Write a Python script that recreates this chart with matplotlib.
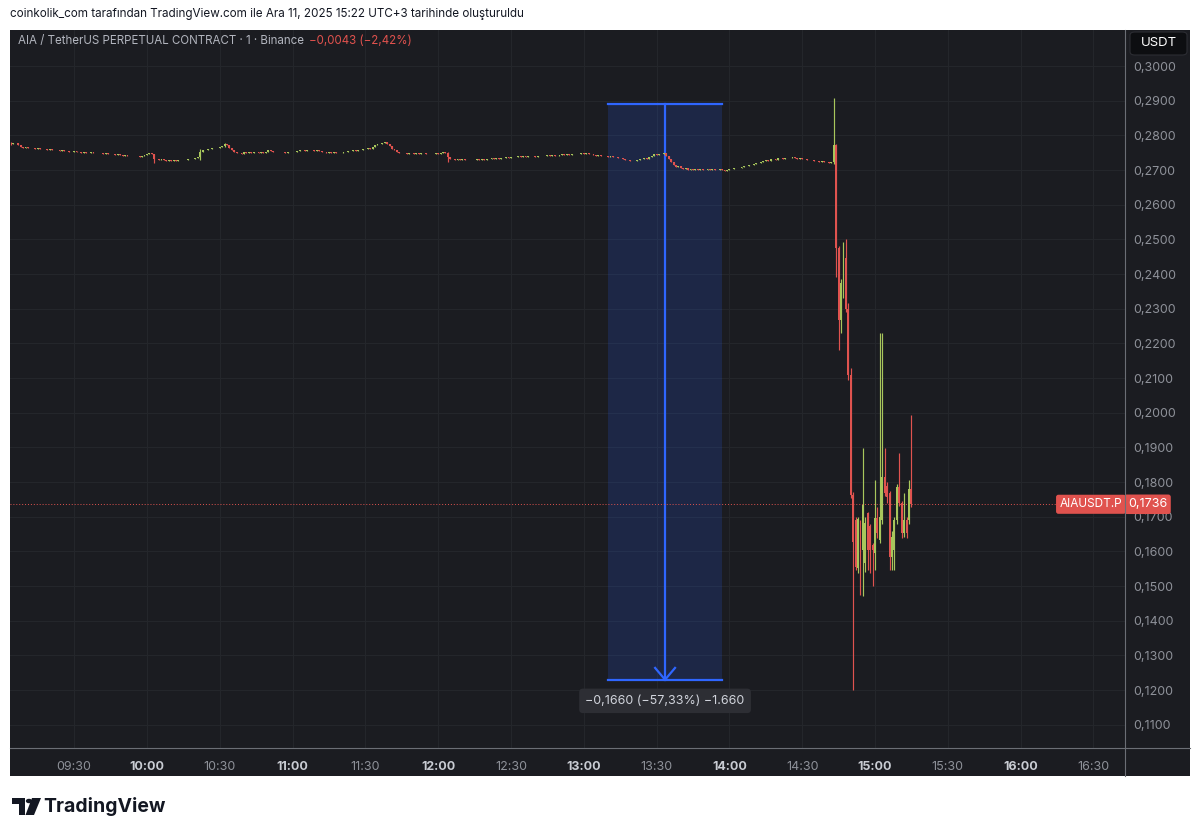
import numpy as np
import matplotlib
matplotlib.use("Agg")
import matplotlib.pyplot as plt
from matplotlib.patches import Rectangle, FancyBboxPatch, Circle, Polygon
from matplotlib.lines import Line2D
from matplotlib.transforms import blended_transform_factory

plt.rcParams['font.family'] = ['Inter', 'DejaVu Sans']

# 1-minute candles, prices in units of 0.0001 USDT
# quiet part 09:04 .. 14:42 (close only, open = previous close)
flat_start = 9 * 60 + 4
flat_first_open = 2776
flat_close = [
    2774, 2779, 2778, 2771, 2767, 2765, 2766, 2764, 2765, 2763,
    2762, 2763, 2761, 2760, 2761, 2759, 2760, 2758, 2759, 2757,
    2756, 2757, 2754, 2755, 2753, 2752, 2754, 2751, 2752, 2750,
    2751, 2749, 2750, 2752, 2749, 2748, 2750, 2748, 2747, 2748,
    2746, 2747, 2745, 2744, 2745, 2743, 2742, 2744, 2742, 2741,
    2742, 2740, 2741, 2739, 2741, 2743, 2746, 2748, 2745, 2733,
    2731, 2729, 2731, 2728, 2727, 2729, 2726, 2728, 2727, 2729,
    2728, 2730, 2729, 2731, 2733, 2732, 2735, 2737, 2752, 2757,
    2759, 2761, 2760, 2763, 2765, 2764, 2767, 2770, 2774, 2771,
    2765, 2758, 2752, 2748, 2750, 2747, 2751, 2749, 2752, 2750,
    2751, 2753, 2750, 2752, 2749, 2753, 2757, 2754, 2752, 2753,
    2751, 2753, 2752, 2750, 2752, 2751, 2753, 2752, 2755, 2757,
    2758, 2756, 2757, 2759, 2757, 2756, 2758, 2755, 2753, 2752,
    2750, 2751, 2749, 2751, 2748, 2750, 2749, 2751, 2753, 2755,
    2754, 2757, 2756, 2759, 2758, 2761, 2760, 2763, 2762, 2766,
    2772, 2775, 2774, 2777, 2780, 2776, 2768, 2762, 2757, 2753,
    2750, 2748, 2749, 2747, 2749, 2748, 2746, 2748, 2747, 2749,
    2748, 2746, 2747, 2745, 2747, 2748, 2746, 2749, 2751, 2750,
    2737, 2731, 2733, 2730, 2732, 2729, 2731, 2728, 2730, 2729,
    2730, 2728, 2731, 2729, 2732, 2730, 2733, 2731, 2734, 2733,
    2735, 2733, 2736, 2735, 2737, 2736, 2739, 2737, 2738, 2740,
    2738, 2741, 2739, 2740, 2742, 2740, 2739, 2741, 2740, 2742,
    2741, 2743, 2742, 2744, 2742, 2741, 2743, 2745, 2744, 2746,
    2744, 2745, 2747, 2745, 2746, 2748, 2747, 2749, 2747, 2745,
    2744, 2742, 2743, 2741, 2742, 2740, 2739, 2741, 2738, 2739,
    2736, 2734, 2731, 2728, 2729, 2725, 2727, 2726, 2729, 2733,
    2731, 2735, 2733, 2738, 2742, 2745, 2744, 2747, 2746, 2748,
    2742, 2733, 2724, 2716, 2710, 2712, 2706, 2703, 2705, 2701,
    2703, 2701, 2702, 2700, 2702, 2699, 2701, 2703, 2700, 2702,
    2701, 2699, 2702, 2700, 2698, 2701, 2703, 2702, 2705, 2707,
    2706, 2709, 2712, 2711, 2715, 2714, 2718, 2721, 2719, 2723,
    2725, 2728, 2727, 2731, 2733, 2730, 2734, 2736, 2733, 2735,
    2736, 2734, 2737, 2735, 2733, 2734, 2731, 2732, 2729, 2730,
    2728, 2726, 2727, 2723, 2725, 2722, 2724, 2721, 2723,
]
# a few visible wicks in the quiet part: candle index -> (high, low)
flat_wicks = {0: (2781, 2772), 59: (2746, 2720), 78: (2760, 2730), 180: (2751, 2722), 88: (2777, 2766)}

# crash 14:43 .. 15:15
crash_open = [2723, 2772, 2475, 2268, 2374, 2446, 2300, 2110, 1763, 1691, 1552, 1681, 1604, 1566, 1710, 1672, 1619,
              1595, 1696, 1633, 1691, 1816, 1790, 1768, 1585, 1604, 1691, 1787, 1739, 1653, 1691, 1691, 1779]
crash_high = [2908, 2775, 2480, 2385, 2493, 2500, 2317, 2128, 1770, 1700, 1700, 1690, 1898, 1700, 1715, 1680, 1625,
              1806, 1729, 2230, 2230, 1898, 1800, 1775, 1660, 1700, 1795, 1883, 1745, 1768, 1700, 1806, 1994]
crash_low = [2718, 2392, 2181, 2230, 2330, 2290, 2095, 1755, 1201, 1545, 1537, 1475, 1470, 1540, 1547, 1537, 1499,
             1547, 1640, 1624, 1680, 1760, 1740, 1547, 1547, 1547, 1680, 1730, 1640, 1643, 1640, 1680, 1729]
crash_close = [2772, 2475, 2268, 2374, 2446, 2300, 2110, 1763, 1628, 1556, 1694, 1576, 1733, 1681, 1604, 1604, 1604,
               1696, 1653, 1700, 1816, 1768, 1758, 1585, 1643, 1691, 1787, 1739, 1653, 1691, 1653, 1779, 1736]

last_price = 0.1736
measure_t0, measure_t1, measure_mid = 13 * 60 + 10, 13 * 60 + 57, 13 * 60 + 33.5
measure_top, measure_bottom = 0.2890, 0.1230
measure_text = "\u22120,1660 (\u221257,33%) \u22121.660"

xtick_min = [570 + 30 * k for k in range(15)]
xtick_lab = ["09:30", "10:00", "10:30", "11:00", "11:30", "12:00", "12:30", "13:00",
             "13:30", "14:00", "14:30", "15:00", "15:30", "16:00", "16:30"]
yticks = [0.11 + 0.01 * k for k in range(20)]

# build OHLC
f_close = np.array(flat_close) / 1e4
f_open = np.concatenate([[flat_first_open / 1e4], f_close[:-1]])
f_high = np.maximum(f_open, f_close)
f_low = np.minimum(f_open, f_close)
for k, (hh, ll) in flat_wicks.items():
    f_high[k] = max(f_high[k], hh / 1e4)
    f_low[k] = min(f_low[k], ll / 1e4)

o = np.concatenate([f_open, np.array(crash_open) / 1e4])
h = np.concatenate([f_high, np.array(crash_high) / 1e4])
l = np.concatenate([f_low, np.array(crash_low) / 1e4])
c = np.concatenate([f_close, np.array(crash_close) / 1e4])
t = flat_start + np.arange(len(o))

BG = '#1b1c21'
GRID = '#24262b'
UP = '#a8c65c'
DOWN = '#e0534f'
TXT = '#8e9199'

W, H = 1200, 836
def fx(px):
    return px / W
def fy(py):
    return 1 - py / H

fig = plt.figure(figsize=(12, 8.36), dpi=100, facecolor='white')
fig.patches.append(Rectangle((fx(10), fy(776)), fx(1190) - fx(10), fy(30) - fy(776),
                             transform=fig.transFigure, facecolor=BG, edgecolor='none', zorder=-5))

ax = fig.add_axes([fx(10), fy(748), (1125 - 10) / W, (748 - 30) / H])
ax.set_zorder(1)
ax.set_facecolor(BG)
for s in ax.spines.values():
    s.set_visible(False)
ax.set_xlim(543.6, 1003.0)
ax.set_ylim(0.1033, 0.3104)

ax.set_xticks(xtick_min)
ax.set_xticklabels(xtick_lab)
ax.set_yticks(yticks)
ax.set_yticklabels(["0,%04d" % round(v * 1e4) for v in yticks])
ax.yaxis.tick_right()
ax.tick_params(axis='y', length=0, pad=6, labelsize=9, labelcolor=TXT)
ax.tick_params(axis='x', length=0, pad=9, labelsize=9, labelcolor=TXT)
for lab in ax.get_xticklabels():
    if lab.get_text().endswith(":00"):
        lab.set_fontweight('bold')
        lab.set_color('#c9ccd3')
ax.grid(True, color=GRID, lw=0.8)
ax.set_axisbelow(True)

# measurement box
ax.add_patch(Rectangle((measure_t0, measure_bottom), measure_t1 - measure_t0, measure_top - measure_bottom,
                       facecolor='#2962ff', alpha=0.17, edgecolor='none', zorder=1))
ax.plot([measure_t0, measure_t1], [measure_top, measure_top], color='#2f66ff', lw=1.6, zorder=2)
ax.plot([measure_t0, measure_t1], [measure_bottom, measure_bottom], color='#2f66ff', lw=1.6, zorder=2)
ax.plot([measure_mid, measure_mid], [measure_top, measure_bottom], color='#2f66ff', lw=1.6, zorder=2)
ax.plot([measure_mid - 4.1, measure_mid, measure_mid + 4.1],
        [measure_bottom + 0.0034, measure_bottom, measure_bottom + 0.0034], color='#2f66ff', lw=1.6, zorder=2)
ax.text(measure_mid, 0.1169, measure_text, ha='center', va='center', fontsize=9, color='#d1d4dc', zorder=6,
        bbox=dict(boxstyle='round,pad=0.5,rounding_size=0.3', facecolor='#2d2e34', edgecolor='none'))

# candles
up = c >= o
colors = np.where(up, UP, DOWN)
ax.vlines(t, l, h, colors=colors, lw=0.85, zorder=3)
body = np.maximum(np.abs(c - o), 0.0001)
ax.bar(t, body, bottom=np.minimum(o, c), width=0.78, color=colors, linewidth=0, zorder=4)

# last price line + labels
ax.axhline(last_price, color=DOWN, lw=0.7, ls=(0, (1, 2)), zorder=2)
bt = blended_transform_factory(ax.transAxes, ax.transData)
ax.text(0.9975, last_price, "AIAUSDT.P", transform=bt, ha='right', va='center', fontsize=8.5, color='white', zorder=7,
        bbox=dict(boxstyle='round,pad=0.3,rounding_size=0.2', facecolor='#e0524e', edgecolor='none'))
ax.text(1.0025, last_price, "0,1736", transform=bt, ha='left', va='center', fontsize=9, color='white', zorder=7,
        clip_on=False,
        bbox=dict(boxstyle='round,pad=0.3,rounding_size=0.2', facecolor='#e0524e', edgecolor='none'))

# panel separators
fig.add_artist(Line2D([fx(1125), fx(1125)], [fy(30), fy(776)], transform=fig.transFigure, color='#6b6e75', lw=0.8,
                      zorder=3))
fig.add_artist(Line2D([fx(10), fx(1190)], [fy(748), fy(748)], transform=fig.transFigure, color='#6b6e75', lw=0.8,
                      zorder=3))

# USDT box
fig.patches.append(FancyBboxPatch((fx(1130), fy(55)), fx(1187) - fx(1130), fy(32) - fy(55),
                                  boxstyle='round,pad=0,rounding_size=0.004', transform=fig.transFigure,
                                  facecolor='#0d0e11', edgecolor='#2c2d33', lw=0.8, zorder=5))
fig.text(fx(1158.5), fy(43.5), "USDT", ha='center', va='center', fontsize=9.5, color='white', zorder=6)

# legend line
leg = fig.text(fx(18), fy(41), "AIA / TetherUS PERPETUAL CONTRACT \u00b7 1 \u00b7 Binance", ha='left', va='center',
               fontsize=8.3, color='#b2b5be', zorder=6)
fig.canvas.draw()
x_end = leg.get_window_extent().x1
fig.text((x_end + 5) / W, fy(41), "\u22120,0043 (\u22122,42%)", ha='left', va='center', fontsize=8.3,
         color='#e0524e', zorder=6)

# header / footer
fig.text(fx(10), fy(14), "coinkolik_com taraf\u0131ndan TradingView.com ile Ara 11, 2025 15:22 UTC+3 tarihinde olu\u015fturuldu",
         ha='left', va='center', fontsize=8.4, color='#131722')
tv = '#131722'
fig.patches.append(Rectangle((fx(12), fy(804)), fx(25) - fx(12), fy(798) - fy(804), transform=fig.transFigure,
                             facecolor=tv, edgecolor='none'))
fig.patches.append(Rectangle((fx(19), fy(815)), fx(25) - fx(19), fy(798) - fy(815), transform=fig.transFigure,
                             facecolor=tv, edgecolor='none'))
fig.patches.append(Polygon([(fx(32), fy(798)), (fx(41), fy(798)), (fx(34), fy(815)), (fx(25.5), fy(815))],
                           closed=True, transform=fig.transFigure, facecolor=tv, edgecolor='none'))
fig.patches.append(Circle((fx(29), fy(801)), 3.2 / W, transform=fig.transFigure, facecolor=tv, edgecolor='none'))
fig.text(fx(43), fy(806), "TradingView", ha='left', va='center', fontsize=14, fontweight='bold', color=tv)

fig.savefig("out.png", dpi=100, facecolor='white')
